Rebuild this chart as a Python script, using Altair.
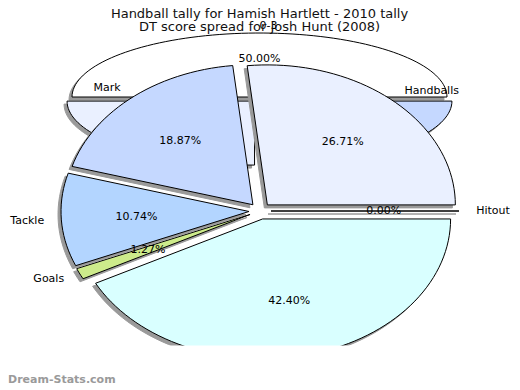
import numpy as np
import pandas as pd
import altair as alt

# ---------------- data ----------------
title_main = "Handball tally for Hamish Hartlett - 2010 tally"
title_back = "DT score spread for Josh Hunt (2008)"
watermark = "Dream-Stats.com"

# front pie, counter-clockwise from 3 o'clock
front_categories = ["Handballs", "Mark", "Tackle", "Goals", "Kick", "Hitout"]
front_percents = [26.71, 18.87, 10.74, 1.27, 42.40, 0.00]
front_colors = ["#EAF0FF", "#C5D8FF", "#B3D5FF", "#CDEB8B", "#D9FFFF", "#FFFFFF"]

# back pie (only the first slice is readable)
back_categories = ["0-3", "", ""]
back_percents = [50.00, 25.00, 25.00]
back_colors = ["#FFFFFF", "#EAF0FF", "#C5D8FF"]

# ---------------- geometry (styling) ----------------
SHADOW = 3


def pie_tables(cats, pcts, colors, cx, cy, rx, ry, explode, group, steps=160):
    pcts = np.asarray(pcts, dtype=float)
    frac = pcts / pcts.sum() * 2 * np.pi
    ends = np.cumsum(frac)
    starts = ends - frac
    rows, labels = [], []
    for i, (c, p, col) in enumerate(zip(cats, pcts, colors)):
        a0, a1 = starts[i], ends[i]
        mid = (a0 + a1) / 2
        ox = cx + explode * np.cos(mid)
        oy = cy - explode * (ry / rx) * np.sin(mid)
        n = max(2, int(steps * (a1 - a0) / (2 * np.pi)) + 2)
        angs = np.linspace(a0, a1, n)
        pts = [(ox, oy)] + [(ox + rx * np.cos(a), oy - ry * np.sin(a)) for a in angs]
        for k, (x, y) in enumerate(pts):
            rows.append(dict(slice=f"{group}-{i}", k=k, x=x, y=y, color=col))
        if c:
            labels.append(dict(
                name=c, pct=f"{p:.2f}%",
                px=ox + 0.6 * rx * np.cos(mid), py=oy - 0.6 * ry * np.sin(mid),
                lx=cx + 1.15 * rx * np.cos(mid), ly=cy - 1.15 * ry * np.sin(mid),
                side="left" if np.cos(mid) > -1e-9 else "right"))
    return pd.DataFrame(rows), pd.DataFrame(labels)


bg_poly, bg_lab = pie_tables(back_categories, back_percents, back_colors,
                             259.5, 99.4, 187.5, 64, 7, "bg")
fg_poly, fg_lab = pie_tables(front_categories, front_percents, front_colors,
                             260, 211, 188, 140, 11, "fg")

XS = alt.Scale(domain=[8, 512], nice=False, zero=False)
YS = alt.Scale(domain=[8, 390], nice=False, zero=False, reverse=True)


def X(f):
    return alt.X(f"{f}:Q", scale=XS, axis=None)


def Y(f):
    return alt.Y(f"{f}:Q", scale=YS, axis=None)


def slices(df):
    return alt.Chart(df).mark_line(
        filled=True, interpolate="linear-closed", stroke="black", strokeWidth=1
    ).encode(x=X("x"), y=Y("y"), detail="slice:N", order="k:Q",
             color=alt.Color("color:N", scale=None))


def shadows(df):
    return alt.Chart(df).mark_line(
        filled=True, interpolate="linear-closed", fill="#9a9a9a",
        stroke="#9a9a9a", strokeWidth=1, xOffset=-SHADOW, yOffset=SHADOW
    ).encode(x=X("x"), y=Y("y"), detail="slice:N", order="k:Q")


FONT = "DejaVu Sans"


def labels(df):
    base = alt.Chart(df)
    pct = base.mark_text(
        font=FONT, fontSize=11, color="black", align="center", baseline="middle"
    ).encode(x=X("px"), y=Y("py"), text="pct:N")
    left = base.transform_filter("datum.side == 'left'").mark_text(
        font=FONT, fontSize=11, color="black", align="left", baseline="middle"
    ).encode(x=X("lx"), y=Y("ly"), text="name:N")
    right = base.transform_filter("datum.side == 'right'").mark_text(
        font=FONT, fontSize=11, color="black", align="right", baseline="middle"
    ).encode(x=X("lx"), y=Y("ly"), text="name:N")
    return pct + left + right


# the plot area of the original ends a little above the bottom of the image
mask = alt.Chart(pd.DataFrame({"m": [0]})).mark_rect(color="white").encode(
    x=alt.value(0), x2=alt.value(504), y=alt.value(337.5), y2=alt.value(382))

titles = pd.DataFrame({"t": [title_main, title_back], "row": [0, 1]})
title1 = alt.Chart(titles).transform_filter("datum.row == 0").mark_text(
    font=FONT, fontSize=13, color="#111", align="center", baseline="alphabetic"
).encode(x=alt.value(251.5), y=alt.value(9.5), text="t:N")
title2 = alt.Chart(titles).transform_filter("datum.row == 1").mark_text(
    font=FONT, fontSize=13, color="#111", align="center", baseline="alphabetic"
).encode(x=alt.value(251.5), y=alt.value(22.5), text="t:N")

wm = alt.Chart(pd.DataFrame({"t": [watermark]})).mark_text(
    font=FONT, fontSize=11, fontWeight="bold", color="#9a9a9a",
    align="left", baseline="middle"
).encode(x=alt.value(0), y=alt.value(372), text="t:N")

chart = alt.layer(
    shadows(bg_poly), slices(bg_poly), labels(bg_lab),
    shadows(fg_poly), slices(fg_poly), labels(fg_lab),
    mask, title1, title2, wm
).properties(
    width=504, height=382, padding=0,
    autosize=alt.AutoSizeParams(type="none"), background="white"
).configure_view(strokeWidth=0)

chart.save("out.html", embed_options={"renderer": "svg", "actions": False})
